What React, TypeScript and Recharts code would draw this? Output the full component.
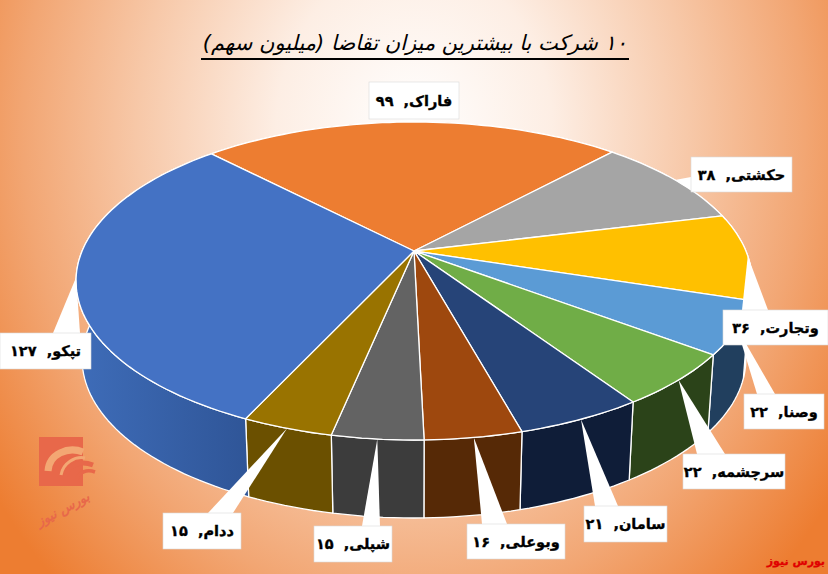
import React from "react";
import { PieChart, Pie } from "recharts";

const names = ["فاراک", "حکشتی", "وتجارت", "وصنا", "سرچشمه", "سامان", "وبوعلی", "شپلی", "ددام", "تپکو"];
const values = [99, 38, 36, 22, 22, 21, 16, 15, 15, 127];

const TOP_COLORS = ["#ED7D31", "#A5A5A5", "#FFC000", "#5B9BD5", "#70AD47", "#264478", "#9E480E", "#636363", "#997300", "#4472C4"];
const WALL_COLORS = ["#8f4c1d", "#646464", "#997300", "#213F5E", "#2B4319", "#0F1D38", "#562906", "#3C3C3C", "#6B5000", "url(#blueWall)"];

// callout boxes: x, y, w, h and the two base points of the pointer
const CALLOUTS = [
  { x: 369, y: 82, w: 90, h: 37, base: [[402, 119], [416, 119]] },
  { x: 691, y: 157, w: 101, h: 35, base: [[691, 177], [691, 190]] },
  { x: 723, y: 310, w: 105, h: 35, base: [[742, 310], [768, 310]] },
  { x: 744, y: 394, w: 80, h: 35, base: [[757, 394], [775, 394]] },
  { x: 683, y: 454, w: 102, h: 35, base: [[697, 454], [725, 454]] },
  { x: 584, y: 506, w: 83, h: 36, base: [[595, 506], [618, 506]] },
  { x: 467, y: 524, w: 98, h: 35, base: [[482, 524], [507, 524]] },
  { x: 314, y: 526, w: 78, h: 36, base: [[362, 526], [380, 526]] },
  { x: 163, y: 513, w: 78, h: 36, base: [[208, 513], [233, 513]] },
  { x: 0, y: 333, w: 91, h: 36, base: [[53, 333], [80, 333]] },
];

const chartData = names.map((name, i) => ({ name, value: values[i] }));

// perspective of the tilted disc, the pie's apex sits above the ellipse centre
const CX = 414;
const CY = 251;
const PERSP = 0.1887;
const RX = 331.9;
const RY = 153.3;
const DEPTH = 78;
const BOTTOM_SHRINK = 0.982;
const START_ANGLE = 133.9;

const project = (deg: number) => {
  const t = (deg * Math.PI) / 180;
  const w = -Math.sin(t);
  const d = 1 - PERSP * w;
  return [CX + (RX * Math.cos(t)) / d, CY + (RY * w) / d];
};

const arcPoints = (from: number, to: number) => {
  const n = Math.max(2, Math.ceil(Math.abs(to - from) / 1.5));
  const pts: number[][] = [];
  for (let i = 0; i <= n; i++) pts.push(project(from + ((to - from) * i) / n));
  return pts;
};

const toPath = (pts: number[][]) => pts.map((p, i) => `${i ? "L" : "M"}${p[0].toFixed(1)} ${p[1].toFixed(1)}`).join(" ");

const TopSlice = (props: any) => {
  const pts = arcPoints(props.startAngle, props.endAngle);
  return <path d={`M${CX} ${CY} ${toPath(pts).replace("M", "L")} Z`} fill={TOP_COLORS[props.index]} stroke="#fff" strokeWidth={1.3} strokeLinejoin="round" />;
};

const WallSlice = (props: any) => {
  const top = arcPoints(props.startAngle, props.endAngle);
  const bottom = top.map((p) => [CX + (p[0] - CX) * BOTTOM_SHRINK, p[1] + DEPTH]).reverse();
  return <path d={`${toPath(top)} ${toPath(bottom).replace("M", "L")} Z`} fill={WALL_COLORS[props.index]} stroke="#fff" strokeWidth={1.3} strokeLinejoin="round" />;
};

const faDigits = (n: number) => String(n).replace(/\d/g, (d) => "۰۱۲۳۴۵۶۷۸۹"[Number(d)]);

const renderCallout = (props: any) => {
  const box = CALLOUTS[props.index];
  const tip = project(props.midAngle);
  return (
    <g key={props.index}>
      <polygon points={`${tip[0]},${tip[1]} ${box.base[0].join(",")} ${box.base[1].join(",")}`} fill="#fff" />
      <rect x={box.x} y={box.y} width={box.w} height={box.h} fill="#fff" stroke="#d9d9d9" strokeWidth={0.6} />
      <text
        x={box.x + box.w / 2}
        y={box.y + box.h / 2 + 5}
        textAnchor="middle"
        direction="rtl"
        fontFamily="'DejaVu Sans'"
        fontWeight="bold"
        fontSize={14.5}
        fill="#000"
        stroke="#000"
        strokeWidth={0.35}
      >
        {`${names[props.index]},\u00A0\u00A0${faDigits(values[props.index])}`}
      </text>
    </g>
  );
};

export default function App() {
  return (
    <div
      style={{
        position: "absolute",
        left: 0,
        top: 0,
        width: 828,
        height: 574,
        overflow: "hidden",
        background:
          "radial-gradient(ellipse 460px 560px at 414px 130px, #ffffff 0%, #fdeee4 30%, #f7c8a8 60%, #f2a673 85%, #ed7d31 112%)",
      }}
    >
      <div
        style={{
          position: "absolute",
          left: 201,
          top: 22,
          width: 428,
          height: 36,
          borderBottom: "2px solid #000",
          direction: "rtl",
          textAlign: "center",
          whiteSpace: "nowrap",
          fontFamily: "'DejaVu Sans'",
          fontStyle: "italic",
          fontSize: 21,
          lineHeight: "42px",
          color: "#000",
        }}
      >
        ۱۰ شرکت با بیشترین میزان تقاضا (میلیون سهم)
      </div>

      <svg width={70} height={105} style={{ position: "absolute", left: 35, top: 435 }}>
        <rect x={4} y={2} width={44} height={49} fill="#E8684A" />
        <path d="M13 36 C14 19 33 11 48 17" fill="none" stroke="#f3a773" strokeWidth={7} />
        <path d="M31 41 C33 30 45 25 58 30" fill="none" stroke="#E8684A" strokeWidth={5} />
        <path d="M26 40 C28 28 40 21 50 23" fill="none" stroke="#f3a773" strokeWidth={3} />
        <path d="M42 44 C44 37 52 34 60 37" fill="none" stroke="#E8684A" strokeWidth={3.5} />
        <text
          x={30}
          y={78}
          textAnchor="middle"
          direction="rtl"
          transform="rotate(-28 30 78)"
          fontFamily="'DejaVu Sans'"
          fontStyle="italic"
          fontWeight="bold"
          fontSize={13}
          fill="#E8684A"
        >
          بورس نیوز
        </text>
      </svg>

      <div
        style={{
          position: "absolute",
          right: 3,
          top: 555,
          direction: "rtl",
          fontFamily: "'DejaVu Sans'",
          fontWeight: "bold",
          fontSize: 11,
          color: "#e00000",
          WebkitTextStroke: "0.3px #e00000",
        }}
      >
        بورس نیوز
      </div>

      <div style={{ position: "absolute", left: 0, top: 0 }}>
        <PieChart width={828} height={574} margin={{ top: 0, right: 0, bottom: 0, left: 0 }}>
          <defs>
            <linearGradient id="blueWall" gradientUnits="userSpaceOnUse" x1="80" y1="0" x2="250" y2="0">
              <stop offset="0" stopColor="#3E6CB8" />
              <stop offset="1" stopColor="#2F5597" />
            </linearGradient>
          </defs>
          <Pie
            data={chartData}
            dataKey="value"
            cx={CX}
            cy={CY}
            outerRadius={200}
            startAngle={START_ANGLE}
            endAngle={START_ANGLE - 360}
            shape={WallSlice}
            isAnimationActive={false}
          />
          <Pie
            data={chartData}
            dataKey="value"
            cx={CX}
            cy={CY}
            outerRadius={200}
            startAngle={START_ANGLE}
            endAngle={START_ANGLE - 360}
            shape={TopSlice}
            label={renderCallout}
            labelLine={false}
            isAnimationActive={false}
          />
        </PieChart>
      </div>
    </div>
  );
}
